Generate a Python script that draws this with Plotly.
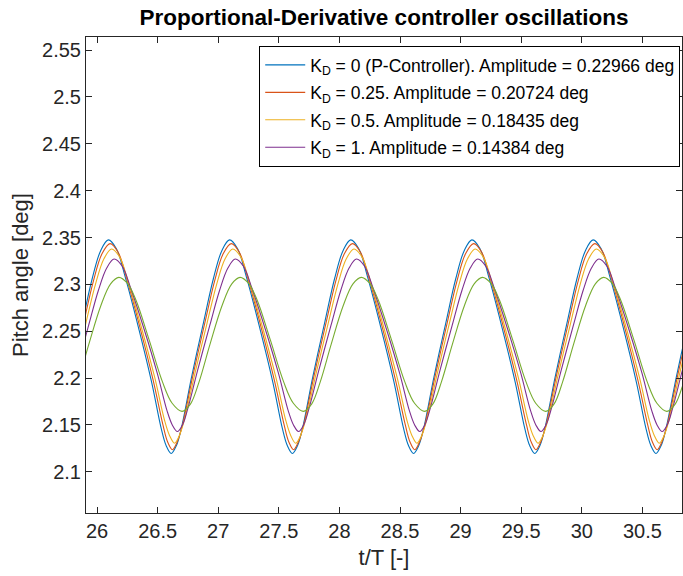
import plotly.graph_objects as go

# ---------------- data ----------------
cycles = [25, 26, 27, 28, 29, 30]

# one period of each curve: phase within a cycle (t/T - cycle) and pitch angle [deg]
kd0_phase = [0.093, 0.160, 0.230, 0.340, 0.450, 0.530, 0.570, 0.612, 0.655, 0.695, 0.780, 0.880, 0.960, 1.030]
kd0_value = [2.3475, 2.338, 2.309, 2.255, 2.196, 2.146, 2.128, 2.1195, 2.128, 2.146, 2.201, 2.260, 2.306, 2.336]

kd025_phase = [0.107, 0.174, 0.244, 0.354, 0.464, 0.544, 0.582, 0.622, 0.662, 0.705, 0.790, 0.890, 0.970, 1.040]
kd025_value = [2.3435, 2.3343, 2.3064, 2.2542, 2.1973, 2.150, 2.132, 2.1235, 2.132, 2.150, 2.2021, 2.2591, 2.3035, 2.3324]

kd05_phase = [0.120, 0.187, 0.257, 0.367, 0.477, 0.557, 0.599, 0.639, 0.679, 0.722, 0.807, 0.907, 0.987, 1.057]
kd05_value = [2.3378, 2.3291, 2.3028, 2.2537, 2.2001, 2.155, 2.1385, 2.1305, 2.1385, 2.156, 2.2046, 2.2582, 2.3001, 2.3273]

kd1_phase = [0.141, 0.208, 0.278, 0.388, 0.498, 0.578, 0.621, 0.663, 0.705, 0.746, 0.831, 0.931, 1.011, 1.081]
kd1_value = [2.327, 2.3193, 2.2959, 2.2524, 2.2047, 2.165, 2.150, 2.143, 2.150, 2.166, 2.2088, 2.2564, 2.2935, 2.3177]

kd2_phase = [0.180, 0.250, 0.320, 0.430, 0.540, 0.620, 0.702, 0.772, 0.842, 0.932, 1.032, 1.112]
kd2_value = [2.3075, 2.3013, 2.2836, 2.2407, 2.1959, 2.1731, 2.1645, 2.1725, 2.196, 2.236, 2.2775, 2.3005]

series_names = [
    "K<sub>D</sub> = 0 (P-Controller). Amplitude = 0.22966 deg",
    "K<sub>D</sub> = 0.25. Amplitude = 0.20724 deg",
    "K<sub>D</sub> = 0.5. Amplitude = 0.18435 deg",
    "K<sub>D</sub> = 1. Amplitude = 0.14384 deg",
    "",
]
series_colors = ["#0072BD", "#D95319", "#EDB120", "#7E2F8E", "#77AC30"]
series_in_legend = [True, True, True, True, False]

x_tickvals = [26, 26.5, 27, 27.5, 28, 28.5, 29, 29.5, 30, 30.5]
x_ticktext = ["26", "26.5", "27", "27.5", "28", "28.5", "29", "29.5", "30", "30.5"]
y_tickvals = [2.1, 2.15, 2.2, 2.25, 2.3, 2.35, 2.4, 2.45, 2.5, 2.55]
y_ticktext = ["2.1", "2.15", "2.2", "2.25", "2.3", "2.35", "2.4", "2.45", "2.5", "2.55"]

x_range = [25.909, 30.827]
y_range = [2.056, 2.564]

# ---------------- figure ----------------
profiles = [
    (kd0_phase, kd0_value),
    (kd025_phase, kd025_value),
    (kd05_phase, kd05_value),
    (kd1_phase, kd1_value),
    (kd2_phase, kd2_value),
]

FONT = "Liberation Sans, Arial, Helvetica, sans-serif"
AX = "#262626"

fig = go.Figure()
for i, ((ph, val), name, col, leg) in enumerate(zip(profiles, series_names, series_colors, series_in_legend)):
    xs = [c + p for c in cycles for p in ph]
    ys = [v for c in cycles for v in val]
    fig.add_trace(go.Scatter(
        x=xs, y=ys, mode="lines", name=name, showlegend=leg, legendgroup=f"g{i}",
        line=dict(color=col, width=1.1, shape="spline", smoothing=1.0),
    ))

axis_common = dict(
    showline=True, linecolor=AX, linewidth=1, mirror="ticks",
    ticks="inside", ticklen=6, tickcolor=AX, tickwidth=1,
    showgrid=False, zeroline=False,
    tickfont=dict(family=FONT, size=20, color=AX),
)

fig.update_layout(
    width=683, height=576,
    margin=dict(l=86, r=1, t=37, b=63),
    paper_bgcolor="white", plot_bgcolor="white",
    font=dict(family=FONT, color=AX),
    title=dict(
        text="<b>Proportional-Derivative controller oscillations</b>",
        font=dict(family=FONT, size=22.5, color="black"),
        x=0.5, xref="paper", xanchor="center",
        y=1 - 17 / 576, yref="container", yanchor="middle",
    ),
    xaxis=dict(
        range=x_range, tickvals=x_tickvals, ticktext=x_ticktext,
        title=dict(text="t/T [-]", font=dict(family=FONT, size=22, color=AX), standoff=8),
        **axis_common,
    ),
    yaxis=dict(
        range=y_range, tickvals=y_tickvals, ticktext=y_ticktext,
        title=dict(text="Pitch angle [deg]", font=dict(family=FONT, size=22, color=AX), standoff=7),
        **axis_common,
    ),
    legend=dict(
        x=0.997, xanchor="right", y=1 - 9 / 476, yanchor="top",
        bgcolor="white", bordercolor="black", borderwidth=1,
        font=dict(family=FONT, size=17.5, color="black"),
        tracegroupgap=1.7, itemwidth=40,
    ),
    showlegend=True,
)

fig.write_html("out.html")
